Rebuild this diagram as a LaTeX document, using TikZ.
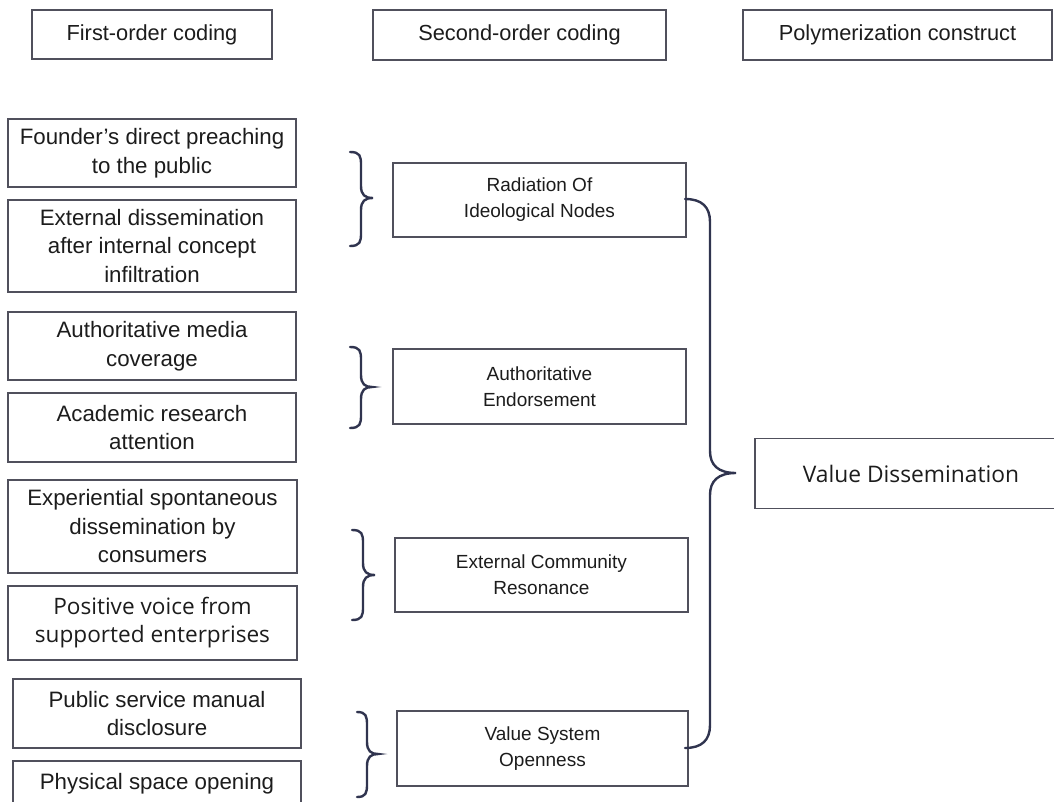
\documentclass[tikz,border=0pt]{standalone}
\usepackage{fontspec}
\setmainfont{Liberation Sans}
\newfontfamily\osans{Open Sans}
\definecolor{boxline}{HTML}{50505C}
\definecolor{braceline}{HTML}{30344F}
\definecolor{txt}{HTML}{1C1C1C}
\begin{document}
\begin{tikzpicture}[x=1pt,y=-1pt,
  box/.style={draw=boxline,line width=1.3pt,rectangle,inner sep=0pt,align=center,text=txt},
  headbox/.style={box,font=\fontsize{21.8}{26}\selectfont},
  firstbox/.style={box,font=\fontsize{22.3}{28.5}\selectfont},
  firstboxb/.style={box,font=\osans\fontsize{22.6}{28}\selectfont},
  secondbox/.style={box,font=\fontsize{19}{26}\selectfont},
  finalbox/.style={box,font=\osans\fontsize{22.8}{26}\selectfont},
  bracepath/.style={draw=braceline,line width=2.4pt,line cap=round}]
\useasboundingbox (0,0) rectangle (1054,802);
% headers
\node[headbox,minimum width=240pt,minimum height=49pt] (h1) at (152,34.5) {First-order coding};
\node[headbox,minimum width=293pt,minimum height=50pt] (h2) at (519.5,35) {Second-order coding};
\node[headbox,minimum width=309pt,minimum height=50pt] (h3) at (897.5,35) {Polymerization construct};
% first-order
\node[firstbox,minimum width=288pt,minimum height=68pt] (f1) at (152,153) {Founder’s direct preaching\\to the public};
\node[firstbox,minimum width=288pt,minimum height=92pt] (f2) at (152,246) {External dissemination\\after internal concept\\infiltration};
\node[firstbox,minimum width=288pt,minimum height=68pt] (f3) at (152,346) {Authoritative media\\coverage};
\node[firstbox,minimum width=288pt,minimum height=69pt] (f4) at (152,427.5) {Academic research\\attention};
\node[firstbox,minimum width=289pt,minimum height=93pt] (f5) at (152.5,526.5) {Experiential spontaneous\\dissemination by\\consumers};
\node[firstboxb,minimum width=289pt,minimum height=74pt] (f6) at (152.5,623) {Positive voice from\\supported enterprises};
\node[firstbox,minimum width=288pt,minimum height=69pt] (f7) at (157,713.5) {Public service manual\\disclosure};
\node[firstbox,minimum width=288pt,minimum height=46pt] (f8) at (157,784) {Physical space opening};
% second-order
\node[secondbox,minimum width=293pt,minimum height=74pt] (s1) at (539.5,200) {Radiation Of\\Ideological Nodes};
\node[secondbox,minimum width=293pt,minimum height=75pt] (s2) at (539.5,386.5) {Authoritative\\Endorsement};
\node[secondbox,minimum width=293pt,minimum height=74pt] (s3) at (541.5,575) {External Community\\Resonance};
\node[secondbox,minimum width=291pt,minimum height=75pt] (s4) at (542.5,748.5) {Value System\\Openness};
% final
\node[finalbox,minimum width=312pt,minimum height=70pt] (v) at (911,473.5) {Value Dissemination};
% small braces
\foreach \xl/\xs/\xt/\yt/\ym/\yb in {350/361/373/152/198/246, 350/361/372/347/387/428, 352/363/375/530/575/620, 357/367/378/712/754/797}{
  \draw[bracepath] (\xl,\yt) .. controls (\xs-1,\yt) and (\xs,\yt+4) .. (\xs,\yt+13)
    -- (\xs,\ym-12) .. controls (\xs,\ym-3) and (\xs+4,\ym) .. (\xt,\ym)
    .. controls (\xs+4,\ym) and (\xs,\ym+3) .. (\xs,\ym+12)
    -- (\xs,\yb-13) .. controls (\xs,\yb-4) and (\xs-1,\yb) .. (\xl,\yb);
}
% big brace
\coordinate (bt) at (685,199);
\coordinate (bb) at (685,748);
\coordinate (btip) at (736,473);
\draw[bracepath] (bt) .. controls (702,199) and (710,207) .. (710,222)
  -- (710,451) .. controls (710,465) and (718,473) .. (btip)
  .. controls (718,473) and (710,481) .. (710,495)
  -- (710,725) .. controls (710,740) and (702,748) .. (bb);
\end{tikzpicture}
\end{document}
